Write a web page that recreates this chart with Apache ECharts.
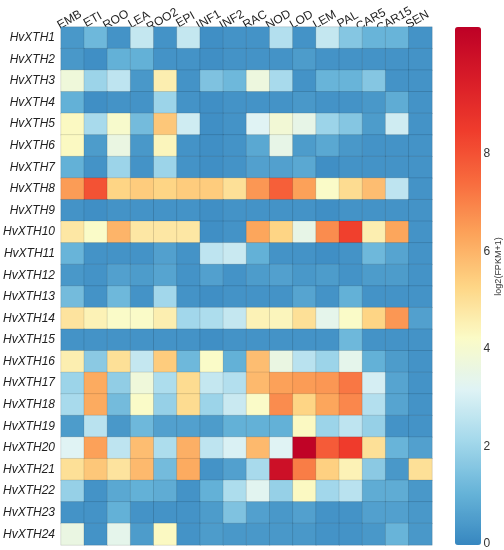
<!DOCTYPE html>
<html lang="en">
<head>
    <meta charset="UTF-8">
    <title>HvXTH expression</title>
    <script src="https://cdn.jsdelivr.net/npm/echarts@6/dist/echarts.min.js"></script>
    <style>
        html, body { margin: 0; padding: 0; background: #fff; }
        #chart { width: 504px; height: 550px; }
    </style>
</head>
<body>
<div id="chart"></div>
<script type="text/javascript">

    // tissues (columns)
    var tissues = ['EMB', 'ETI', 'ROO', 'LEA', 'ROO2', 'EPI', 'INF1', 'INF2', 'RAC', 'NOD', 'LOD', 'LEM', 'PAL', 'CAR5', 'CAR15', 'SEN'];

    // genes (rows, top to bottom)
    var genes = [];
    for (var g = 1; g <= 24; g++) {
        genes.push('HvXTH' + g);
    }

    // log2(FPKM+1), one line per gene, same order as tissues
    var expr = [
        [0.4, 1.2, 0.3, 2.7, 0.3, 2.7, 0.2, 0.3, 0.3, 2.4, 0.3, 2.7, 1.6, 1.1, 1.1, 0.3],
        [0.4, 0.2, 1.0, 1.0, 0.3, 0.3, 0.2, 0.3, 0.3, 0.3, 0.5, 0.3, 0.3, 0.3, 0.3, 0.3],
        [3.8, 2.0, 2.6, 0.4, 4.6, 0.3, 1.5, 1.2, 3.7, 2.2, 0.3, 1.1, 1.1, 1.6, 0.3, 0.3],
        [1.0, 0.2, 0.3, 0.3, 2.0, 0.3, 0.2, 0.3, 0.3, 0.3, 0.4, 0.3, 0.3, 0.4, 0.9, 0.3],
        [4.3, 2.2, 4.1, 1.3, 5.6, 2.9, 0.2, 0.3, 3.2, 3.9, 3.5, 2.0, 1.6, 0.5, 2.9, 0.3],
        [4.3, 0.5, 3.6, 0.4, 4.4, 0.3, 0.2, 0.3, 0.8, 3.5, 0.5, 0.8, 0.4, 0.3, 0.3, 0.3],
        [1.0, 0.3, 2.0, 0.3, 2.0, 0.3, 0.2, 0.3, 0.6, 0.6, 0.8, 0.2, 0.3, 0.3, 0.3, 0.3],
        [6.5, 8.0, 5.3, 5.5, 5.3, 5.5, 5.5, 5.0, 6.6, 7.7, 6.4, 4.2, 5.1, 5.8, 2.6, 0.3],
        [0.3, 0.2, 0.3, 0.3, 0.3, 0.3, 0.2, 0.3, 0.3, 0.3, 0.3, 0.2, 0.3, 0.3, 0.3, 0.3],
        [4.8, 4.2, 6.0, 4.8, 4.8, 4.8, 0.2, 0.3, 6.3, 5.3, 3.5, 6.8, 8.4, 4.6, 6.3, 0.3],
        [1.1, 0.3, 0.3, 0.3, 0.6, 0.3, 2.6, 2.8, 1.0, 0.3, 0.3, 0.2, 0.3, 1.2, 0.7, 0.3],
        [0.4, 0.3, 0.6, 0.5, 0.7, 0.3, 0.6, 0.3, 0.5, 0.6, 0.4, 0.5, 0.3, 0.5, 0.5, 0.3],
        [1.3, 0.3, 1.2, 0.3, 2.1, 0.3, 0.2, 0.3, 0.3, 0.3, 0.7, 0.3, 1.0, 0.3, 0.3, 0.3],
        [4.9, 4.5, 4.2, 4.2, 4.6, 2.1, 2.3, 2.7, 4.5, 4.4, 5.0, 3.4, 4.2, 5.3, 6.6, 0.6],
        [0.3, 0.3, 0.3, 0.3, 0.3, 0.3, 0.2, 0.3, 0.3, 0.3, 0.3, 0.3, 1.2, 0.3, 0.3, 0.3],
        [4.6, 1.7, 5.0, 2.7, 5.5, 1.2, 4.2, 1.0, 5.8, 3.6, 2.5, 2.0, 3.4, 1.0, 0.5, 0.3],
        [2.0, 6.2, 1.8, 3.8, 2.3, 5.1, 2.7, 2.4, 5.9, 6.4, 6.5, 6.6, 7.2, 3.0, 0.7, 0.3],
        [2.2, 6.2, 1.3, 4.2, 1.9, 5.1, 2.0, 2.8, 4.2, 6.8, 5.3, 6.3, 6.9, 2.4, 0.7, 0.3],
        [0.5, 2.5, 0.4, 1.2, 0.6, 0.6, 0.5, 1.0, 1.0, 1.0, 4.3, 2.0, 2.6, 1.9, 0.3, 0.3],
        [3.2, 6.4, 2.6, 5.8, 2.3, 6.1, 2.6, 3.1, 5.9, 3.2, 10.5, 7.8, 8.5, 5.0, 1.1, 0.6],
        [5.0, 5.6, 4.9, 5.9, 1.3, 6.2, 0.3, 0.6, 2.2, 10.0, 7.1, 5.4, 4.5, 1.7, 0.4, 5.0],
        [1.9, 0.3, 0.8, 1.0, 0.9, 0.3, 1.0, 2.3, 3.3, 1.9, 4.3, 2.1, 2.5, 0.9, 0.9, 0.4],
        [0.3, 0.3, 1.0, 0.3, 0.3, 0.3, 0.5, 1.5, 0.6, 0.4, 0.6, 0.3, 0.3, 0.6, 0.6, 0.4],
        [3.6, 0.3, 3.4, 0.5, 4.3, 0.3, 0.5, 0.4, 0.4, 0.4, 0.4, 0.3, 0.3, 0.4, 1.1, 0.4]
    ];

    // colour bar
    var scaleMin = 0;
    var scaleMax = 10.6;
    var barTicks = [0, 2, 4, 6, 8];
    var palette = ['#3787c0', '#66b3d8', '#a3d8eb', '#dff3f5', '#fbfbc6', '#fed585',
        '#fca35a', '#f86c3e', '#ef3c2c', '#d81c28', '#bd0026'];

    var cells = [];
    for (var r = 0; r < genes.length; r++) {
        for (var c = 0; c < tissues.length; c++) {
            cells.push([c, r, expr[r][c]]);
        }
    }

    var myChart = echarts.init(document.getElementById('chart'), null, {renderer: 'canvas'});
    var font = 'Liberation Sans, Arial, sans-serif';

    var option = {
        backgroundColor: '#fff',
        animation: false,
        textStyle: {fontFamily: font},
        grid: [
            {left: 53, top: 27, width: 379, height: 518},
            {left: 455, top: 27, width: 26, height: 518}
        ],
        xAxis: [{
            type: 'category',
            data: tissues,
            position: 'top',
            gridIndex: 0,
            axisLine: {show: false},
            axisTick: {show: false},
            splitLine: {show: false},
            axisLabel: {
                interval: 0,
                rotate: -30,
                align: 'center',
                verticalAlign: 'bottom',
                margin: 2,
                fontSize: 12,
                color: '#222',
                fontFamily: font
            }
        }, {
            type: 'value',
            gridIndex: 1,
            show: false
        }],
        yAxis: [{
            type: 'category',
            data: genes,
            inverse: true,
            gridIndex: 0,
            axisLine: {show: false},
            axisTick: {show: false},
            axisLabel: {interval: 0, fontSize: 12, fontStyle: 'italic', color: '#222', margin: 6, fontFamily: font}
        }, {
            type: 'value',
            gridIndex: 1,
            min: scaleMin,
            max: scaleMax,
            position: 'right',
            axisLine: {show: false},
            axisTick: {show: false},
            splitLine: {show: false},
            axisLabel: {
                customValues: barTicks,
                margin: 4,
                fontSize: 12,
                color: '#333',
                fontFamily: font
            },
            name: 'log2(FPKM+1)',
            nameLocation: 'middle',
            nameRotate: 90,
            nameGap: 12,
            nameTextStyle: {fontSize: 9, color: '#333', fontFamily: font, padding: [0, 0, 0, 38]}
        }],
        visualMap: {
            type: 'continuous',
            min: scaleMin,
            max: scaleMax,
            seriesIndex: 0,
            left: 455,
            top: 27,
            padding: 0,
            itemWidth: 26,
            itemHeight: 518,
            text: ['', ''],
            showLabel: false,
            calculable: false,
            hoverLink: false,
            inRange: {color: palette}
        },
        series: [{
            type: 'heatmap',
            xAxisIndex: 0,
            yAxisIndex: 0,
            data: cells,
            itemStyle: {borderColor: 'rgba(0,0,0,0.22)', borderWidth: 0.5},
            emphasis: {disabled: true}
        }]
    };

    myChart.setOption(option);
</script>
</body>
</html>
